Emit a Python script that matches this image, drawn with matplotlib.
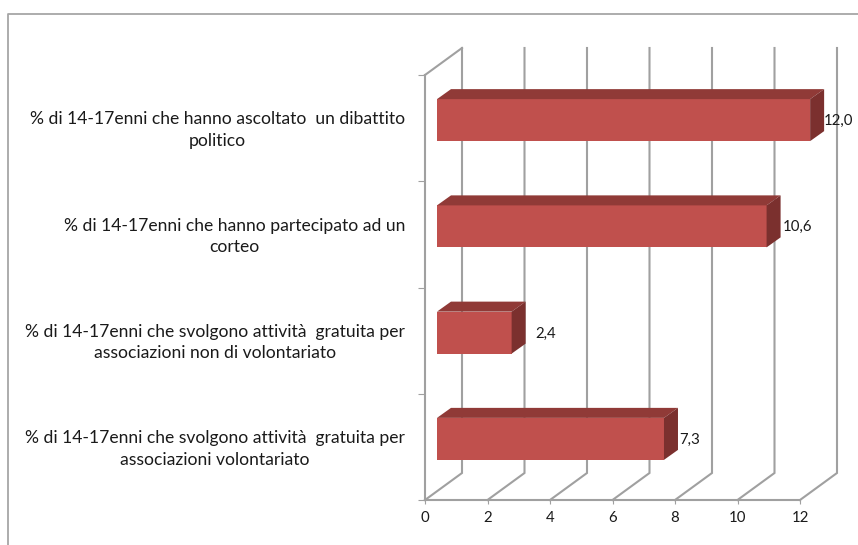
#!/usr/bin/env python3
# -*- coding: utf-8 -*-
import matplotlib
matplotlib.use('Agg')
import matplotlib.pyplot as plt
from matplotlib.lines import Line2D
from matplotlib.patches import Polygon

plt.rcParams['font.family'] = ['Lato', 'DejaVu Sans']

#values, bottom to top
labels = ['% di 14-17enni che svolgono attività  gratuita per\nassociazioni volontariato',
          '% di 14-17enni che svolgono attività  gratuita per\nassociazioni non di volontariato',
          '% di 14-17enni che hanno partecipato ad un\ncorteo',
          '% di 14-17enni che hanno ascoltato  un dibattito\npolitico']
values = [7.3, 2.4, 10.6, 12.0]
value_labels = ['7,3', '2,4', '10,6', '12,0']
x_ticks = [0, 2, 4, 6, 8, 10, 12]

W, H = 858, 545
fig = plt.figure(figsize=(W / 100, H / 100), dpi=100)
# axes box = front plane of the 3d chart, in pixels
L, R, T, B = 425, 800, 75, 500
ax = fig.add_axes([L / W, 1 - B / H, (R - L) / W, (B - T) / H])
ax.set_xlim(0, 12)
ax.set_ylim(0, 4)
ax.patch.set_visible(False)

px = 12 / (R - L)
py = 4 / (B - T)
grid = '#a0a0a0'
depth_x, depth_y = 37 * px, 27 * py

#outer frame of the picture
fig.add_artist(Line2D([8 / W, 8 / W, 1], [0, 1 - 14 / H, 1 - 14 / H], color='#a6a6a6', lw=1.3))

#back wall and floor
for t in x_ticks:
    ax.plot([t, t + depth_x, t + depth_x], [0, depth_y, 4 + depth_y], color=grid, lw=1.5,
            clip_on=False, zorder=1, solid_joinstyle='miter')
ax.plot([0, depth_x], [4, 4 + depth_y], color=grid, lw=1.5, clip_on=False, zorder=1)

#bars
shift_x, shift_y = 12 * px, 8 * py
bar_h = 42 * py
bar_dx, bar_dy = 14 * px, 10 * py
scale = 0.995
for i, v in enumerate(values):
    x0 = shift_x
    x1 = shift_x + v * scale
    y0 = i + 0.5 + shift_y - bar_h / 2
    y1 = y0 + bar_h
    ax.barh(i + 0.5 + shift_y, v * scale, height=bar_h, left=x0, color='#c0504d',
            edgecolor='none', zorder=3, clip_on=False)
    ax.add_patch(Polygon([(x0, y1), (x0 + bar_dx, y1 + bar_dy), (x1 + bar_dx, y1 + bar_dy), (x1, y1)],
                         facecolor='#903a37', edgecolor='none', zorder=3, clip_on=False))
    ax.add_patch(Polygon([(x1, y0), (x1 + bar_dx, y0 + bar_dy), (x1 + bar_dx, y1 + bar_dy), (x1, y1)],
                         facecolor='#7b302e', edgecolor='none', zorder=3, clip_on=False))
ax.set_xlim(0, 12)
ax.set_ylim(0, 4)

#data labels
label_gap = [1, 10, 2, 0]
for i, v in enumerate(values):
    ax.annotate(value_labels[i], (shift_x + v * scale + bar_dx, i + 0.5 + shift_y),
                xytext=(label_gap[i], -1), textcoords='offset pixels', fontsize=10.8,
                color='#1a1a1a', ha='left', va='center', annotation_clip=False, zorder=4)

#category labels
for i, lab in enumerate(labels):
    ax.text(-20 * px, i + 0.5 - 2 * py, lab, ha='right', va='center', multialignment='center',
            fontsize=12.6, color='#1a1a1a', linespacing=1.42)

ax.set_xticks(x_ticks)
ax.set_yticks([0, 1, 2, 3, 4])
ax.set_yticklabels([])
ax.tick_params(axis='x', length=3, color=grid, labelsize=10.8, labelcolor='#1a1a1a', pad=5)
ax.tick_params(axis='y', length=5, color=grid)
for s in ['top', 'right']:
    ax.spines[s].set_visible(False)
for s in ['left', 'bottom']:
    ax.spines[s].set_color(grid)
    ax.spines[s].set_linewidth(1.5)

fig.savefig('out.png', dpi=100)
